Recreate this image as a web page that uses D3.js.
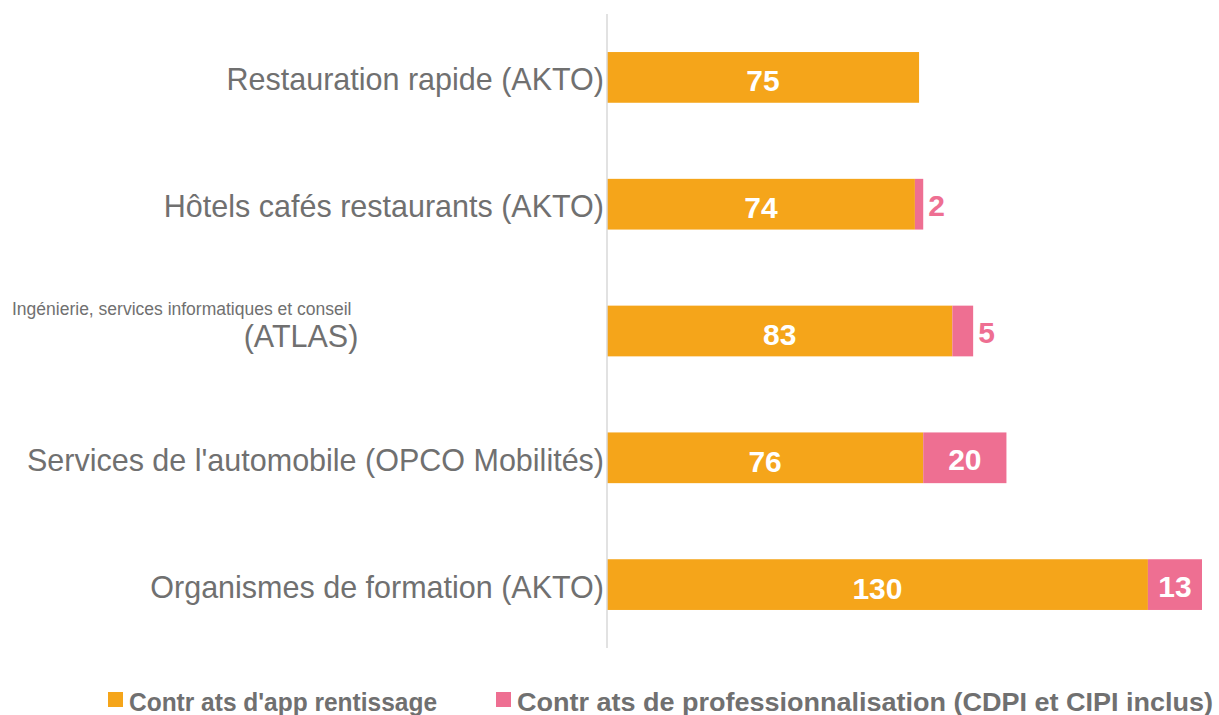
<!DOCTYPE html>
<html lang="fr">
<head>
    <meta charset="UTF-8">
    <title>Contrats</title>
    <script src="https://d3js.org/d3.v7.min.js"></script>
    <style>
        body { margin: 0; background: #fff; }
        text { font-family: "Liberation Sans", Arial, sans-serif; }
    </style>
</head>
<body>
    <div id="plot"></div>
    <script>
        // data
        let categories = [
            'Restauration rapide (AKTO)',
            'Hôtels cafés restaurants (AKTO)',
            'Ingénierie, services informatiques et conseil (ATLAS)',
            "Services de l'automobile (OPCO Mobilités)",
            'Organismes de formation (AKTO)'
        ];
        let apprentissage = [75, 74, 83, 76, 130];
        let professionnalisation = [0, 2, 5, 20, 13];
        let seriesNames = ["Contr ats d'app rentissage", 'Contr ats de professionnalisation (CDPI et CIPI inclus)'];
        let colors = ['#F5A51A', '#EE6F92'];

        function translate(x, y) {
            return 'translate(' + x + ', ' + y + ')';
        }

        let svgWidth = 1219, svgHeight = 715;
        let plotLeft = 607, plotTop = 14, plotBottom = 648;
        let grey = '#707070';

        let svg = d3.select('#plot')
            .append('svg')
            .attr('width', svgWidth)
            .attr('height', svgHeight);

        let x = d3.scaleLinear().domain([0, 143]).range([plotLeft, 1202]);
        let y = d3.scaleBand().domain(categories).range([plotTop, plotBottom]).paddingInner(0.6).paddingOuter(0.3);

        let rows = categories.map((c, i) => ({ cat: c, a: apprentissage[i], p: professionnalisation[i] }));

        // orange bars
        svg.selectAll('rect.a')
            .data(rows)
            .enter().append('rect')
            .attr('class', 'a')
            .attr('x', x(0))
            .attr('y', d => y(d.cat))
            .attr('width', d => x(d.a) - x(0))
            .attr('height', y.bandwidth())
            .style('fill', colors[0]);

        // pink bars
        svg.selectAll('rect.p')
            .data(rows.filter(d => d.p > 0))
            .enter().append('rect')
            .attr('class', 'p')
            .attr('x', d => x(d.a))
            .attr('y', d => y(d.cat))
            .attr('width', d => x(d.a + d.p) - x(d.a))
            .attr('height', y.bandwidth())
            .style('fill', colors[1]);

        // axis line
        svg.append('line')
            .attr('x1', plotLeft).attr('x2', plotLeft)
            .attr('y1', plotTop).attr('y2', plotBottom)
            .style('stroke', '#d9d9d9').style('stroke-width', 1.5);

        // value labels
        svg.selectAll('text.va')
            .data(rows)
            .enter().append('text')
            .attr('x', d => (x(0) + x(d.a)) / 2)
            .attr('y', d => y(d.cat) + y.bandwidth() / 2 + 14)
            .attr('text-anchor', 'middle')
            .style('font-size', '30px').style('font-weight', 'bold').style('fill', '#fff')
            .text(d => d.a);

        svg.selectAll('text.vp')
            .data(rows.filter(d => d.p > 0))
            .enter().append('text')
            .attr('x', d => d.p < 10 ? x(d.a + d.p) + 5 : (x(d.a) + x(d.a + d.p)) / 2)
            .attr('y', d => y(d.cat) + y.bandwidth() / 2 + 12)
            .attr('text-anchor', d => d.p < 10 ? 'start' : 'middle')
            .style('font-size', '30px').style('font-weight', 'bold')
            .style('fill', d => d.p < 10 ? colors[1] : '#fff')
            .text(d => d.p);

        // category labels
        let labels = svg.append('g');
        categories.forEach((c, i) => {
            let cy = y(c) + y.bandwidth() / 2;
            if (i === 2) {
                labels.append('text')
                    .attr('x', 12).attr('y', cy - 16)
                    .style('font-size', '17.5px').style('fill', grey)
                    .text('Ingénierie, services informatiques et conseil');
                labels.append('text')
                    .attr('x', 301).attr('y', cy + 16)
                    .attr('text-anchor', 'middle')
                    .style('font-size', '30.5px').style('fill', grey)
                    .text('(ATLAS)');
            } else {
                labels.append('text')
                    .attr('x', plotLeft - 3).attr('y', cy + 13)
                    .attr('text-anchor', 'end')
                    .style('font-size', '30.5px').style('fill', grey)
                    .text(c);
            }
        });

        // legend
        let legendX = [108, 496];
        seriesNames.forEach((s, i) => {
            let g = svg.append('g').attr('transform', translate(legendX[i], 692));
            g.append('rect').attr('width', 15).attr('height', 15).style('fill', colors[i]);
            g.append('text')
                .attr('x', 21).attr('y', 19)
                .attr('textLength', i === 0 ? 308 : 696)
                .attr('lengthAdjust', 'spacingAndGlyphs')
                .style('font-size', '25px').style('font-weight', 'bold').style('fill', grey)
                .text(s);
        });
    </script>
</body>
</html>
